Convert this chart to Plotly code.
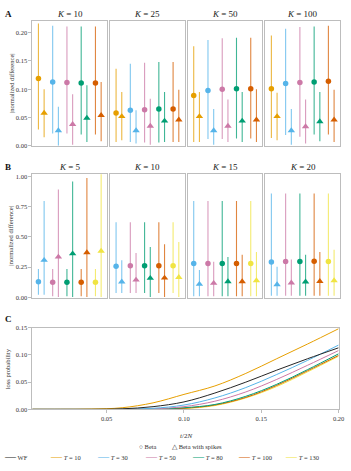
import plotly.graph_objects as go

W, H = 351, 471
FONT = "Liberation Serif"

COLORS = {10: "#E69F00", 30: "#56B4E9", 50: "#CC79A7", 80: "#009E73", 100: "#D55E00", 130: "#F0E442"}
WF_COLOR = "#262626"

def rgba(hexc, a):
    h = hexc.lstrip("#")
    return "rgba(%d,%d,%d,%.2f)" % (int(h[0:2], 16), int(h[2:4], 16), int(h[4:6], 16), a)

# ---------------- Panel A data ----------------
A_K = [10, 25, 50, 100]
A_T = [10, 30, 50, 80, 100]
A_beta_mid = [
    [0.119, 0.113, 0.112, 0.111, 0.111],
    [0.058, 0.063, 0.064, 0.065, 0.065],
    [0.089, 0.098, 0.100, 0.101, 0.101],
    [0.101, 0.110, 0.112, 0.113, 0.114],
]
A_beta_lo = [
    [0.029, 0.022, 0.022, 0.020, 0.020],
    [0.007, 0.007, 0.006, 0.006, 0.007],
    [0.007, 0.012, 0.012, 0.013, 0.013],
    [0.014, 0.019, 0.016, 0.020, 0.020],
]
A_beta_hi = [
    [0.216, 0.212, 0.211, 0.211, 0.211],
    [0.136, 0.145, 0.147, 0.148, 0.148],
    [0.176, 0.187, 0.190, 0.191, 0.191],
    [0.195, 0.207, 0.210, 0.211, 0.212],
]
A_spike_mid = [
    [0.058, 0.027, 0.038, 0.049, 0.054],
    [0.052, 0.027, 0.035, 0.044, 0.046],
    [0.052, 0.027, 0.035, 0.044, 0.046],
    [0.052, 0.027, 0.034, 0.043, 0.046],
]
A_spike_lo = [
    [0.015, 0.000, 0.002, 0.007, 0.008],
    [0.010, 0.004, 0.002, 0.007, 0.007],
    [0.007, 0.002, 0.007, 0.007, 0.007],
    [0.010, 0.002, 0.004, 0.008, 0.007],
]
A_spike_hi = [
    [0.100, 0.069, 0.091, 0.107, 0.113],
    [0.095, 0.063, 0.083, 0.095, 0.099],
    [0.095, 0.065, 0.082, 0.095, 0.100],
    [0.094, 0.065, 0.082, 0.095, 0.099],
]

# ---------------- Panel B data ----------------
B_K = [5, 10, 15, 20]
B_T = [30, 50, 80, 100, 130]
B_beta_mid = [
    [0.128, 0.125, 0.125, 0.125, 0.125],
    [0.258, 0.261, 0.261, 0.261, 0.261],
    [0.280, 0.280, 0.280, 0.280, 0.280],
    [0.293, 0.296, 0.296, 0.299, 0.296],
]
B_beta_lo = [
    [0.022, 0.008, 0.008, 0.008, 0.008],
    [0.035, 0.035, 0.035, 0.035, 0.035],
    [0.008, 0.008, 0.008, 0.008, 0.008],
    [0.014, 0.014, 0.014, 0.014, 0.014],
]
B_beta_hi = [
    [0.234, 0.234, 0.234, 0.234, 0.234],
    [0.620, 0.620, 0.620, 0.620, 0.620],
    [0.796, 0.796, 0.796, 0.796, 0.796],
    [0.859, 0.859, 0.859, 0.859, 0.859],
]
B_spike_mid = [
    [0.307, 0.334, 0.361, 0.370, 0.383],
    [0.128, 0.144, 0.158, 0.160, 0.166],
    [0.109, 0.117, 0.130, 0.130, 0.139],
    [0.106, 0.120, 0.128, 0.133, 0.139],
]
B_spike_lo = [
    [0.022, 0.003, 0.003, 0.003, 0.003],
    [0.035, 0.035, 0.003, 0.003, 0.003],
    [0.008, 0.008, 0.008, 0.008, 0.008],
    [0.014, 0.014, 0.014, 0.014, 0.014],
]
B_spike_hi = [
    [0.796, 0.891, 0.959, 0.986, 1.050],
    [0.307, 0.367, 0.416, 0.438, 0.457],
    [0.226, 0.294, 0.334, 0.353, 0.375],
    [0.253, 0.313, 0.353, 0.375, 0.394],
]

# ---------------- Panel C data ----------------
C_t = [0.00, 0.02, 0.04, 0.06, 0.08, 0.10, 0.12, 0.14, 0.16, 0.18, 0.20]
C_labels = ["WF", "10", "30", "50", "80", "100", "130"]
C_WF = [0, 0, 0, 0.0010, 0.0050, 0.0137, 0.030, 0.050, 0.072, 0.093, 0.113]
C_T10 = [0, 0, 0.0005, 0.0030, 0.0120, 0.0275, 0.043, 0.066, 0.093, 0.120, 0.148]
C_T30 = [0, 0, 0, 0.0003, 0.0020, 0.0080, 0.021, 0.040, 0.064, 0.090, 0.118]
C_T50 = [0, 0, 0, 0, 0.0010, 0.0050, 0.015, 0.032, 0.055, 0.081, 0.108]
C_T80 = [0, 0, 0, 0, 0.0005, 0.0030, 0.009, 0.024, 0.046, 0.073, 0.102]
C_T100 = [0, 0, 0, 0, 0.0003, 0.0020, 0.008, 0.022, 0.044, 0.071, 0.099]
C_T130 = [0, 0, 0, 0, 0.0002, 0.0015, 0.007, 0.021, 0.042, 0.069, 0.0975]

# ---------------- layout geometry (pixels) ----------------
COLS = [(33, 109), (112, 188), (191, 267), (270, 346)]
A_Y = (17, 144)
B_Y = (172.7, 298)
C_X = (33, 344.5)
C_Y = (328.5, 411.5)

def px(x):
    return x / W

def py(y):
    return 1 - y / H

fig = go.Figure()
layout = {}
annotations = []

GRID = "#bdbdbd"
TICKFONT = dict(family=FONT, size=6.5, color="#333333")

def add_panel(start_idx, Ks, Ts, bmid, blo, bhi, smid, slo, shi, yrange, ytickvals, yspan, prefix_title):
    for j, K in enumerate(Ks):
        n = start_idx + j
        xa = "xaxis%d" % n
        ya = "yaxis%d" % n
        for i, T in enumerate(Ts):
            c = COLORS[T]
            for (mid, lo, hi, off, sym, sz) in [
                (bmid, blo, bhi, -0.2, "circle", 5.5),
                (smid, slo, shi, 0.2, "triangle-up", 6.5),
            ]:
                m = mid[j][i]
                fig.add_trace(go.Scatter(
                    x=[i + off], y=[m], mode="markers",
                    marker=dict(symbol=sym, size=sz, color=c, line=dict(width=0)),
                    error_y=dict(type="data", symmetric=False,
                                 array=[hi[j][i] - m], arrayminus=[m - lo[j][i]],
                                 color=rgba(c, 0.75), thickness=1.1, width=0),
                    xaxis="x%d" % n, yaxis="y%d" % n, showlegend=False,
                    cliponaxis=True,
                ))
        x0, x1 = COLS[j]
        layout[xa] = dict(domain=[px(x0), px(x1)], range=[-0.62, 4.62], anchor="y%d" % n,
                          showticklabels=False, ticks="", showgrid=False, zeroline=False,
                          showline=True, mirror=True, linecolor=GRID, linewidth=1, fixedrange=True)
        layout[ya] = dict(domain=[py(yspan[1]), py(yspan[0])], range=yrange, anchor="x%d" % n,
                          tickvals=ytickvals, tickformat=".2f",
                          showticklabels=(j == 0), ticks="outside" if j == 0 else "",
                          ticklen=3, tickcolor=GRID, tickfont=TICKFONT,
                          showgrid=False, zeroline=False,
                          showline=True, mirror=True, linecolor=GRID, linewidth=1, fixedrange=True)
        annotations.append(dict(
            text="<i>K</i> = %d" % K, x=px((x0 + x1) / 2), y=py(yspan[0] - 7),
            xref="paper", yref="paper", showarrow=False, xanchor="center", yanchor="middle",
            font=dict(family=FONT, size=9, color="#222222")))

add_panel(1, A_K, A_T, A_beta_mid, A_beta_lo, A_beta_hi, A_spike_mid, A_spike_lo, A_spike_hi,
          [0, 0.221], [0, 0.05, 0.10, 0.15, 0.20], A_Y, "A")
add_panel(5, B_K, B_T, B_beta_mid, B_beta_lo, B_beta_hi, B_spike_mid, B_spike_lo, B_spike_hi,
          [-0.002, 1.019], [0, 0.25, 0.5, 0.75, 1.0], B_Y, "B")

# ---------------- Panel C ----------------
C_series = [C_WF, C_T10, C_T30, C_T50, C_T80, C_T100, C_T130]
C_colors = [WF_COLOR, COLORS[10], COLORS[30], COLORS[50], COLORS[80], COLORS[100], COLORS[130]]
order = [6, 5, 4, 3, 2, 1, 0]
for k in order:
    fig.add_trace(go.Scatter(
        x=C_t, y=C_series[k], mode="lines", line=dict(color=C_colors[k], width=1, shape="spline"),
        xaxis="x9", yaxis="y9", showlegend=False))
layout["xaxis9"] = dict(domain=[px(C_X[0]), px(C_X[1])], range=[0.002, 0.2], anchor="y9",
                        tickvals=[0.05, 0.10, 0.15, 0.20], tickformat=".2f", ticks="outside",
                        ticklen=3, tickcolor=GRID, tickfont=TICKFONT, showgrid=False, zeroline=False,
                        showline=True, mirror=True, linecolor=GRID, linewidth=1, fixedrange=True)
layout["yaxis9"] = dict(domain=[py(C_Y[1]), py(C_Y[0])], range=[0, 0.15], anchor="x9",
                        tickvals=[0, 0.05, 0.10, 0.15], tickformat=".2f", ticks="outside",
                        ticklen=3, tickcolor=GRID, tickfont=TICKFONT, showgrid=False, zeroline=False,
                        showline=True, mirror=True, linecolor=GRID, linewidth=1, fixedrange=True)

# ---------------- text annotations ----------------
LAB = dict(family=FONT, size=6.5, color="#333333")
for letter, yy in [("A", 10), ("B", 165), ("C", 320)]:
    annotations.append(dict(text="<b>%s</b>" % letter, x=px(3), y=py(yy), xref="paper", yref="paper",
                            showarrow=False, xanchor="left", yanchor="middle",
                            font=dict(family=FONT, size=9, color="#111111")))
annotations.append(dict(text="|normalized difference|", x=px(11), y=py((A_Y[0] + A_Y[1]) / 2),
                        xref="paper", yref="paper", showarrow=False, textangle=-90,
                        xanchor="center", yanchor="middle", font=LAB))
annotations.append(dict(text="|normalized difference|", x=px(11), y=py((B_Y[0] + B_Y[1]) / 2),
                        xref="paper", yref="paper", showarrow=False, textangle=-90,
                        xanchor="center", yanchor="middle", font=LAB))
annotations.append(dict(text="loss probability", x=px(8), y=py((C_Y[0] + C_Y[1]) / 2),
                        xref="paper", yref="paper", showarrow=False, textangle=-90,
                        xanchor="center", yanchor="middle", font=LAB))
annotations.append(dict(text="<i>t</i>/2<i>N</i>", x=px((C_X[0] + C_X[1]) / 2), y=py(439),
                        xref="paper", yref="paper", showarrow=False,
                        xanchor="center", yanchor="middle", font=dict(family=FONT, size=7, color="#333333")))

# marker legend row
LEG = dict(family=FONT, size=6.5, color="#333333")
annotations.append(dict(text="○ Beta", x=px(139), y=py(449), xref="paper", yref="paper",
                        showarrow=False, xanchor="left", yanchor="middle", font=LEG))
annotations.append(dict(text="△ Beta with spikes", x=px(173), y=py(449), xref="paper", yref="paper",
                        showarrow=False, xanchor="left", yanchor="middle", font=LEG))
# line legend row
leg_x = [2, 49, 97, 145, 193, 240, 288]
for k in range(7):
    name = "WF" if k == 0 else "<i>T</i> = %s" % C_labels[k]
    txt = "<span style='color:%s;font-size:11px'>—</span> %s" % (C_colors[k], name)
    annotations.append(dict(text=txt, x=px(leg_x[k]), y=py(459), xref="paper", yref="paper",
                            showarrow=False, xanchor="left", yanchor="middle", font=LEG))

fig.update_layout(
    width=W, height=H, margin=dict(l=0, r=0, t=0, b=0),
    paper_bgcolor="white", plot_bgcolor="white", showlegend=False,
    font=dict(family=FONT, size=7, color="#333333"),
    annotations=annotations, **layout)

fig.write_html("out.html", config={"displayModeBar": False})
